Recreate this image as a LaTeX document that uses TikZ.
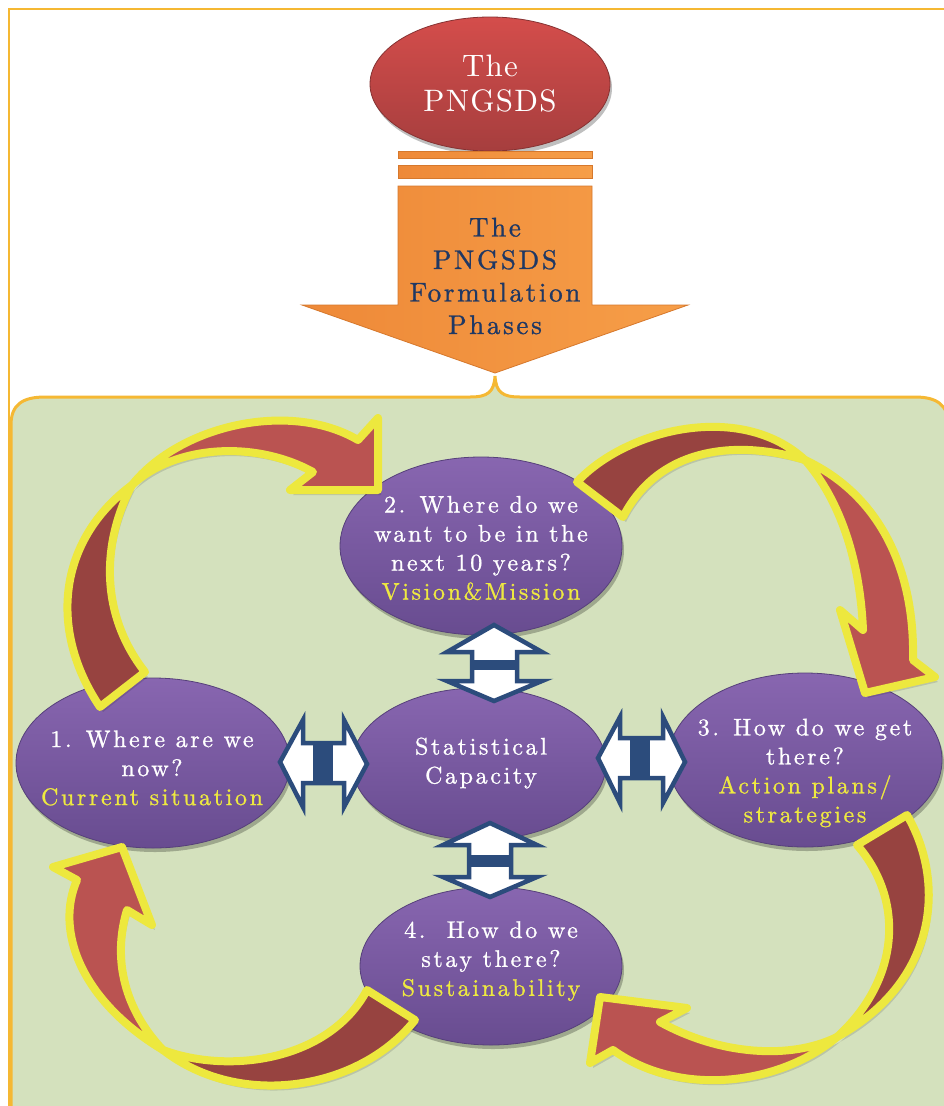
\documentclass[tikz,border=0pt]{standalone}
\usepackage{fontspec}
\newfontfamily\lmwide{lmroman10-regular.otf}[LetterSpace=11,FakeBold=1]
\newfontfamily\lmtop{lmroman10-regular.otf}[LetterSpace=4]
\newfontfamily\lmarrow{lmroman10-regular.otf}[LetterSpace=10,FakeBold=1]
\usetikzlibrary{shapes.geometric,shadows}
\definecolor{frameor}{RGB}{245,184,51}
\definecolor{panelgr}{RGB}{212,225,189}
\definecolor{purpT}{RGB}{136,102,176}
\definecolor{purpB}{RGB}{104,76,144}
\definecolor{purpE}{RGB}{86,64,122}
\definecolor{redT}{RGB}{212,77,75}
\definecolor{redB}{RGB}{166,62,62}
\definecolor{orL}{RGB}{238,137,56}
\definecolor{orR}{RGB}{246,158,72}
\definecolor{orE}{RGB}{214,120,44}
\definecolor{navy}{RGB}{44,76,124}
\definecolor{navytext}{RGB}{31,56,100}
\definecolor{darkred}{RGB}{151,67,64}
\definecolor{lightred}{RGB}{186,83,81}
\definecolor{ylw}{RGB}{237,232,62}
\definecolor{ytext}{RGB}{238,233,64}
\begin{document}
\begin{tikzpicture}[x=1pt,y=-1pt,
  bubble/.style={ellipse, inner sep=0pt, top color=purpT, bottom color=purpB,
    draw=purpE, line width=0.8pt,
    drop shadow={shadow xshift=2pt,shadow yshift=-4pt,opacity=0.25,fill=black}},
  btext/.style={text=white, align=center, inner sep=0pt,
    font=\lmwide\fontsize{24pt}{29pt}\selectfont},
  dbl/.style={fill=white, draw=navy, line width=4.5pt, line join=miter},
  darkpart/.style={fill=darkred, draw=ylw, line width=8pt, line join=round},
  lightpart/.style={fill=lightred, draw=ylw, line width=8pt, line join=round},
  shade/.style={fill=black, opacity=0.12},
  orbar/.style={left color=orL, right color=orR, draw=orE, line width=0.8pt}
]
\useasboundingbox (0,0) rectangle (944,1106);
\fill[white] (0,0) rectangle (944,1106);

% green panel
\path[fill=panelgr, draw=frameor, line width=3pt]
  (11,1115) -- (11,425) .. controls (11,405) and (22,397) .. (45,397)
  -- (470,397) .. controls (488,397) and (494,392) .. (495,376)
  .. controls (496,392) and (502,397) .. (520,397)
  -- (915,397) .. controls (937,397) and (948,405) .. (949,425) -- (949,1115);
% outer frame
\draw[frameor, line width=2pt] (9,1115) -- (9,9) -- (950,9);

% top ellipse
\node[ellipse, inner sep=0pt, minimum width=240pt, minimum height=134pt,
  top color=redT, bottom color=redB, draw=redB!80!black, line width=0.8pt,
  drop shadow={shadow xshift=2pt,shadow yshift=-4pt,opacity=0.25,fill=black}]
  (top) at (490,84) {};
\node[text=white, align=center, inner sep=0pt,
  font=\lmtop\fontsize{31pt}{35pt}\selectfont] (toptext) at (top.center) {The\\PNGSDS};

% bars and big arrow
\path[orbar] (398,151) rectangle (592,158);
\path[orbar] (398,165) rectangle (592,178);
\path[orbar] (398,186) -- (592,186) -- (592,305) -- (688,305) -- (495,373)
  -- (302,305) -- (398,305) -- cycle;
\node[text=navytext, align=center, inner sep=0pt,
  font=\lmarrow\fontsize{27pt}{32.5pt}\selectfont] (phases) at (495,276)
  {The\\PNGSDS\\Formulation\\Phases};

% bubbles
\node[bubble, minimum width=282pt, minimum height=178pt] (e2) at (481,546) {};
\node[bubble, minimum width=254pt, minimum height=152pt] (ec) at (479,764) {};
\node[bubble, minimum width=274pt, minimum height=170pt] (e1) at (153,763) {};
\node[bubble, minimum width=274pt, minimum height=174pt] (e3) at (805,760) {};
\node[bubble, minimum width=262pt, minimum height=158pt] (e4) at (491,966) {};

\node[btext] (t2) at (481,548) {2. Where do we\\want to be in the\\next 10 years?\\\textcolor{ytext}{Vision\&Mission}};
\node[btext] (tc) at (481,763) {Statistical\\Capacity};
\node[btext] (t1) at (152,768) {1. Where are we\\now?\\\textcolor{ytext}{Current situation}};
\node[btext] (t3) at (805,773) {3. How do we get\\there?\\\textcolor{ytext}{Action plans/}\\\textcolor{ytext}{strategies}};
\node[btext] (t4) at (491,961) {4.\ \ How do we\\stay there?\\\textcolor{ytext}{Sustainability}};

% double arrows
\draw[dbl] (494,625) -- (542,652) -- (517,652) -- (517,681) -- (542,681) -- (494,701)
  -- (447,681) -- (472,681) -- (472,652) -- (447,652) -- cycle;
\fill[navy] (472,660) rectangle (517,670);
\draw[dbl] (490,823) -- (537,845) -- (511,845) -- (511,877) -- (537,877) -- (490,897)
  -- (443,877) -- (469,877) -- (469,845) -- (443,845) -- cycle;
\fill[navy] (469,855) rectangle (511,867);
\draw[dbl] (280,762) -- (303,720) -- (303,743) -- (344,743) -- (344,720) -- (367,764)
  -- (344,807) -- (344,783) -- (303,783) -- (303,807) -- cycle;
\fill[navy] (313,743) rectangle (333,783);
\draw[dbl] (598,758) -- (620,717) -- (620,738) -- (663,738) -- (663,717) -- (685,762)
  -- (663,803) -- (663,778) -- (620,778) -- (620,803) -- cycle;
\fill[navy] (630,738) rectangle (650,778);

% curved arrows: shadows
\begin{scope}[shift={(3,5)}]
\fill[shade] (100,707) .. controls (48,630) and (58,540) .. (132,485)
  .. controls (180,425) and (290,400) .. (358,440) -- (378,418) -- (378,490)
  -- (290,490) -- (313,472) .. controls (255,440) and (175,445) .. (132,485)
  .. controls (103,540) and (98,612) .. (145,672) -- cycle;
\fill[shade] (577,482) .. controls (625,430) and (740,400) .. (805,460)
  .. controls (880,495) and (915,570) .. (913,660) -- (935,677) -- (865,693)
  -- (840,610) -- (863,630) .. controls (860,560) and (840,500) .. (805,460)
  .. controls (740,440) and (660,445) .. (623,517) -- cycle;
\fill[shade] (907,815) .. controls (945,880) and (940,980) .. (837,1037)
  .. controls (780,1085) and (680,1098) .. (613,1050) -- (590,1063) -- (600,997)
  -- (687,1008) -- (660,1022) .. controls (720,1055) and (790,1060) .. (837,1037)
  .. controls (900,980) and (905,900) .. (857,845) -- cycle;
\fill[shade] (415,1020) .. controls (360,1090) and (240,1110) .. (163,1050)
  .. controls (80,1000) and (55,930) .. (77,880) -- (53,867) -- (122,847)
  -- (152,925) -- (127,910) .. controls (112,960) and (125,1010) .. (163,1050)
  .. controls (230,1075) and (330,1060) .. (367,990) -- cycle;
\end{scope}

% arrow 1 -> 2
\path[darkpart] (100,707) .. controls (48,630) and (58,540) .. (132,485)
  .. controls (103,540) and (98,612) .. (145,672) -- cycle;
\path[lightpart] (132,485) .. controls (180,425) and (290,400) .. (358,440)
  -- (378,418) -- (378,490) -- (290,490) -- (313,472)
  .. controls (255,440) and (175,445) .. cycle;
% arrow 2 -> 3
\path[darkpart] (577,482) .. controls (625,430) and (740,400) .. (805,460)
  .. controls (740,440) and (660,445) .. (623,517) -- cycle;
\path[lightpart] (805,460) .. controls (880,495) and (915,570) .. (913,660)
  -- (935,677) -- (865,693) -- (840,610) -- (863,630)
  .. controls (860,560) and (840,500) .. cycle;
% arrow 3 -> 4
\path[darkpart] (907,815) .. controls (945,880) and (940,980) .. (837,1037)
  .. controls (900,980) and (905,900) .. (857,845) -- cycle;
\path[lightpart] (837,1037) .. controls (780,1085) and (680,1098) .. (613,1050)
  -- (590,1063) -- (600,997) -- (687,1008) -- (660,1022)
  .. controls (720,1055) and (790,1060) .. cycle;
% arrow 4 -> 1
\path[darkpart] (415,1020) .. controls (360,1090) and (240,1110) .. (163,1050)
  .. controls (230,1075) and (330,1060) .. (367,990) -- cycle;
\path[lightpart] (163,1050) .. controls (80,1000) and (55,930) .. (77,880)
  -- (53,867) -- (122,847) -- (152,925) -- (127,910)
  .. controls (112,960) and (125,1010) .. cycle;
\end{tikzpicture}
\end{document}
